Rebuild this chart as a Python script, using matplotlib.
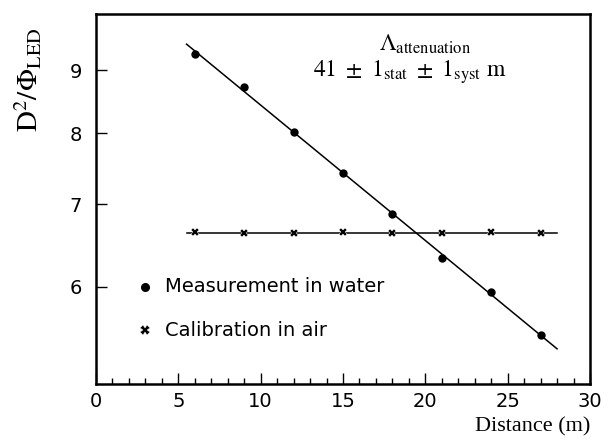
import numpy as np
import matplotlib
matplotlib.use("Agg")
import matplotlib.pyplot as plt
from matplotlib.ticker import FixedLocator, NullLocator, MultipleLocator

plt.rcParams["mathtext.fontset"] = "stix"

distance = [6, 9, 12, 15, 18, 21, 24, 27]
water = [9.28, 8.72, 8.02, 7.42, 6.88, 6.33, 5.94, 5.48]
air = [6.65, 6.63, 6.63, 6.65, 6.63, 6.63, 6.65, 6.63]
yticks = [6, 7, 8, 9]
xticks = [0, 5, 10, 15, 20, 25, 30]

fig = plt.figure(figsize=(6.08, 4.43), dpi=100)
ax = fig.add_axes([96/608, 1-384/443, (590-96)/608, (384-14)/443])

sans = "DejaVu Sans"
serif = "Liberation Serif"

# fit lines
x = np.array(distance, float)
p = np.polyfit(x, np.log(water), 1)
xf = np.array([5.5, 28.0])
ax.plot(xf, np.exp(np.polyval(p, xf)), color="black", lw=1.1)
ax.plot(xf, [np.mean(air)] * 2, color="black", lw=1.1)

ax.plot(distance, water, "o", color="black", ms=5, ls="none")
ax.plot(distance, air, "X", color="black", ms=6, mew=0.3, mec="white", ls="none")

ax.set_yscale("log")
ax.set_xlim(0, 30)
ax.set_ylim(5, 10)
ax.yaxis.set_major_locator(FixedLocator(yticks))
ax.yaxis.set_minor_locator(NullLocator())
ax.set_yticklabels([str(t) for t in yticks])
ax.xaxis.set_major_locator(FixedLocator(xticks))
ax.xaxis.set_minor_locator(MultipleLocator(1))
ax.tick_params(which="both", direction="in", top=False, right=False,
               labelsize=14, width=1)
ax.tick_params(which="major", length=8)
ax.tick_params(which="minor", length=4)
ax.tick_params(axis="x", pad=6)
ax.tick_params(axis="y", pad=10)
for lab in ax.get_xticklabels() + ax.get_yticklabels():
    lab.set_family(sans)
for s in ax.spines.values():
    s.set_linewidth(1.8)

# legend (manual)
ax.plot([3.0], [6.0], "o", color="black", ms=5.5)
ax.text(4.2, 6.0, "Measurement in water", fontsize=14, family=sans, va="center")
ax.plot([3.0], [5.53], "X", color="black", ms=7, mew=0.3, mec="white")
ax.text(4.2, 5.53, "Calibration in air", fontsize=14, family=sans, va="center")

# annotation
fig.text(425/608, 1-44/443, r"$\Lambda_{\mathrm{attenuation}}$", fontsize=17,
         ha="center", va="center")
fig.text(410/608, 1-72/443,
         r"$\mathrm{41\ \pm\ 1_{stat}\ \pm\ 1_{syst}\ m}$",
         fontsize=17, ha="center", va="center")

fig.text(28/608, 1-80/443, r"$\mathrm{D^2/\Phi_{LED}}$", rotation=90,
         fontsize=21, ha="center", va="center")
fig.text(590/608, 1-427/443, "Distance (m)", fontsize=16, family=serif,
         ha="right", va="center")

fig.savefig("out.png", dpi=100)
